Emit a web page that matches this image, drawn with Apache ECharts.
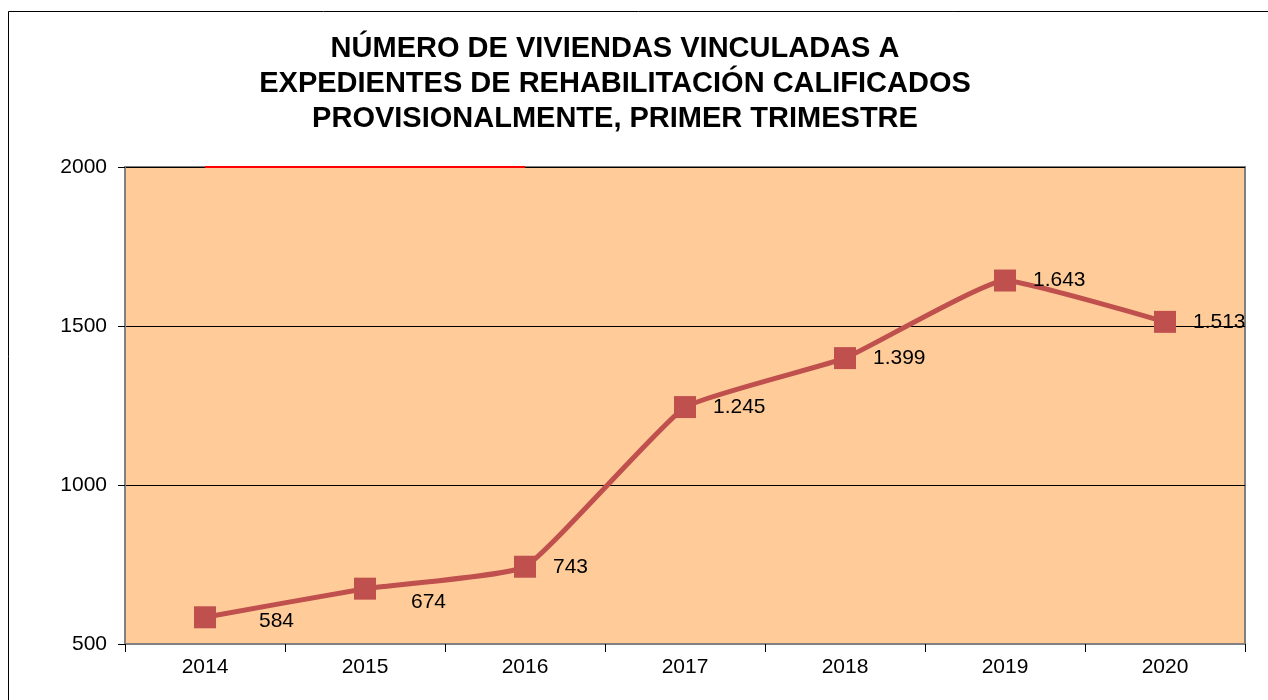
<!DOCTYPE html>
<html>
<head>
<meta charset="utf-8">
<script src="https://cdn.jsdelivr.net/npm/echarts@6/dist/echarts.min.js"></script>
<style>
html,body{margin:0;padding:0;background:#fff;}
#main{width:1268px;height:700px;}
</style>
</head>
<body>
<div id="main"></div>
<script>
const titleText = 'NÚMERO DE VIVIENDAS VINCULADAS A\nEXPEDIENTES DE REHABILITACIÓN CALIFICADOS\nPROVISIONALMENTE, PRIMER TRIMESTRE';
const years = ['2014','2015','2016','2017','2018','2019','2020'];
const viviendas = [584, 674, 743, 1245, 1399, 1643, 1513];
const topRedLine = [2000, 2000, 2000, null, null, null, null];
const yTicks = [500, 1000, 1500, 2000];

function fmt(v){ return String(v).replace(/\B(?=(\d{3})+(?!\d))/g, '.'); }

const labelOffsets = [[26,4],[18,14],[0,0],[0,0],[0,0],[0,0],[0,0]];

const chart = echarts.init(document.getElementById('main'), null, {renderer:'canvas'});
chart.setOption({
  backgroundColor:'#ffffff',
  animation:false,
  title:{
    text:titleText,
    left:610, top:26, textAlign:'center',
    textStyle:{fontFamily:'Liberation Sans', fontWeight:'bold', fontSize:29, lineHeight:35, color:'#000'}
  },
  graphic:[{type:'rect', shape:{x:8.5,y:11.5,width:1300,height:720}, style:{fill:'none', stroke:'#000', lineWidth:1}, silent:true}],
  grid:{left:125, right:23, top:167, bottom:56, show:true, backgroundColor:'#FFCC99', borderColor:'#808080', borderWidth:2},
  xAxis:{
    type:'category', data:years, boundaryGap:true,
    axisLine:{lineStyle:{color:'#808080', width:2}},
    axisTick:{show:true, length:8, lineStyle:{color:'#000'}},
    axisLabel:{fontFamily:'Liberation Sans', fontSize:21, color:'#000', margin:13},
    splitLine:{show:false}
  },
  yAxis:{
    type:'value', min:yTicks[0], max:yTicks[yTicks.length-1], interval:500,
    axisLine:{show:true, lineStyle:{color:'#808080', width:2}},
    axisTick:{show:true, length:7, lineStyle:{color:'#000'}},
    axisLabel:{fontFamily:'Liberation Sans', fontSize:21, color:'#000', margin:18, formatter:v=>String(v)},
    splitLine:{show:true, lineStyle:{color:'#000', width:1}}
  },
  series:[
    {
      type:'line', data:topRedLine, symbol:'none', clip:false, z:5,
      lineStyle:{color:'#FF0000', width:2}, silent:true
    },
    {
      type:'line', data:viviendas.map((v,i)=>({value:v, label:{offset:labelOffsets[i]}})),
      smooth:0.12,
      symbol:'rect', symbolSize:22,
      itemStyle:{color:'#C0504D'},
      lineStyle:{color:'#C0504D', width:5},
      label:{show:true, position:'right', distance:17, fontFamily:'Liberation Sans', fontSize:21, color:'#000',
        formatter:p=>fmt(p.value)},
      z:6
    }
  ]
});
</script>
</body>
</html>
